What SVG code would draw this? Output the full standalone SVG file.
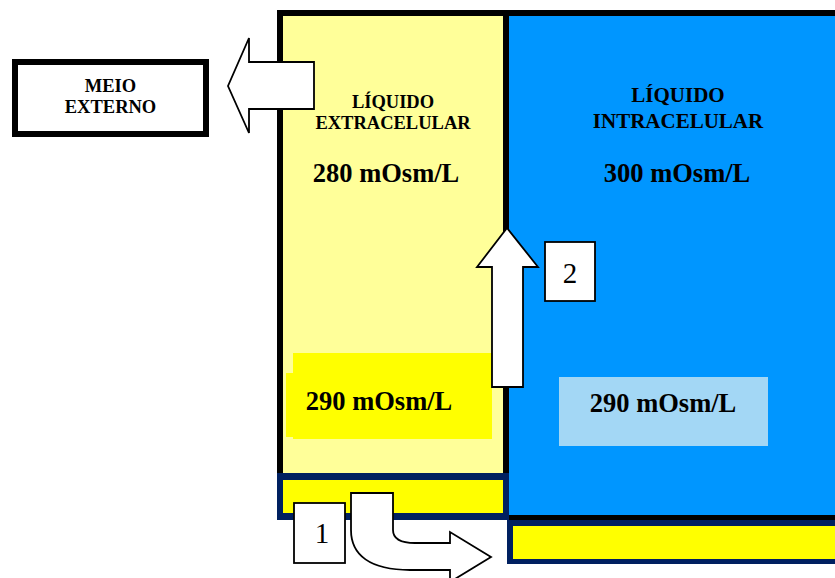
<svg xmlns="http://www.w3.org/2000/svg" width="835" height="578" viewBox="0 0 835 578">
<style>
text{font-family:"Liberation Serif","Times New Roman",serif;fill:#000}
.b{font-weight:bold}
.arrow{fill:#fff;stroke:#000;stroke-width:1.8;stroke-linejoin:miter}
.lbl{fill:#fff;stroke:#000;stroke-width:1.8}
</style>
<rect width="835" height="578" fill="#fff"/>
<g id="compartments">
<rect x="277" y="10" width="558" height="510" fill="#000"/>
<rect x="283" y="16" width="220" height="457" fill="#FFFF99"/>
<rect x="509" y="16" width="326" height="499" fill="#0096FF"/>
</g>
<g id="ecf">
<text class="b" x="393" y="108" font-size="18.5" text-anchor="middle">LÍQUIDO</text>
<text class="b" x="393" y="129" font-size="18.5" text-anchor="middle">EXTRACELULAR</text>
<text class="b" x="386" y="182" font-size="26.5" text-anchor="middle">280 mOsm/L</text>
</g>
<g id="ecf-290">
<rect x="293" y="353" width="199" height="86" fill="#FFFF00"/>
<rect x="286" y="373" width="20" height="64" fill="#FFFF00"/>
<text class="b" x="379" y="410" font-size="26.5" text-anchor="middle">290 mOsm/L</text>
</g>
<g id="icf">
<text class="b" x="678" y="102" font-size="21" text-anchor="middle">LÍQUIDO</text>
<text class="b" x="678" y="128" font-size="21" text-anchor="middle">INTRACELULAR</text>
<text class="b" x="677" y="182" font-size="26.5" text-anchor="middle">300 mOsm/L</text>
</g>
<g id="icf-290">
<rect x="559" y="377" width="209" height="69" fill="#A3D7F5"/>
<text class="b" x="663" y="412" font-size="26.5" text-anchor="middle">290 mOsm/L</text>
</g>
<g id="strip-ecf">
<rect x="277" y="473" width="232" height="47" fill="#002060"/>
<rect x="283" y="480" width="220" height="33" fill="#FFFF00"/>
</g>
<g id="strip-icf">
<rect x="507" y="520" width="328" height="44" fill="#002060"/>
<rect x="513" y="526" width="322" height="33" fill="#FFFF00"/>
</g>
<g id="meio-externo">
<rect x="15" y="62" width="191" height="72" fill="#fff" stroke="#000" stroke-width="6"/>
<text class="b" x="110.5" y="92" font-size="18.5" text-anchor="middle">MEIO</text>
<text class="b" x="110.5" y="113" font-size="18.5" text-anchor="middle">EXTERNO</text>
</g>
<g id="connectors">
<path class="arrow" d="M314,62 L249,62 L249,38 L228,86 L249,133 L249,109 L314,109 Z"/>
<path class="arrow" d="M492,387 L492,267 L477,267 L507,228 L538,267 L523,267 L523,387 Z"/>
<path class="arrow" d="M351,493 L393,493 L393,530 C393,539 400,543 415,543 L450,543 L450,532 L491,557 L450,582 L450,570 L410,570 C370,570 351,555 351,530 Z"/>
</g>
<g id="label-1">
<rect class="lbl" x="294" y="503" width="51" height="60"/>
<text x="322" y="543" font-size="29" text-anchor="middle">1</text>
</g>
<g id="label-2">
<rect class="lbl" x="545" y="242" width="50" height="59"/>
<text x="570" y="283" font-size="29" text-anchor="middle">2</text>
</g>
</svg>
